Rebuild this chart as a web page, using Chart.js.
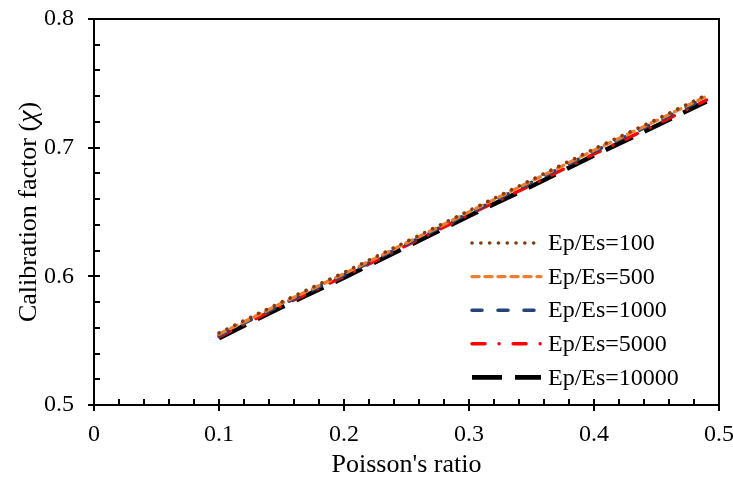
<!DOCTYPE html>
<html>
<head>
<meta charset="utf-8">
<script src="https://cdn.jsdelivr.net/npm/chart.js@4.4.1/dist/chart.umd.min.js"></script>
<style>
  html, body { margin: 0; padding: 0; background: #fff; }
  #wrap { width: 733px; height: 481px; }
</style>
</head>
<body>
<div id="wrap"><canvas id="chart" width="733" height="481"></canvas></div>
<script>
// Poisson's ratio values
const poisson = [0.1, 0.15, 0.2, 0.25, 0.3, 0.35, 0.4, 0.45, 0.49];

// calibration factor for each stiffness ratio
const ratio100   = [0.556, 0.580, 0.603, 0.627, 0.651, 0.675, 0.699, 0.722, 0.741];
const ratio500   = [0.555, 0.579, 0.602, 0.626, 0.650, 0.674, 0.698, 0.721, 0.740];
const ratio1000  = [0.554, 0.578, 0.601, 0.625, 0.649, 0.673, 0.697, 0.720, 0.739];
const ratio5000  = [0.553, 0.577, 0.600, 0.624, 0.648, 0.671, 0.695, 0.718, 0.737];
const ratio10000 = [0.552, 0.576, 0.599, 0.623, 0.647, 0.670, 0.694, 0.717, 0.736];

const seriesLabels = ['Ep/Es=100', 'Ep/Es=500', 'Ep/Es=1000', 'Ep/Es=5000', 'Ep/Es=10000'];
const seriesValues = [ratio100, ratio500, ratio1000, ratio5000, ratio10000];

const styles = [
    { color: '#843C0C', dash: [0.1, 8.7], width: 3.6, cap: 'round' },
    { color: '#ED7D31', dash: [7, 6], width: 3.4, cap: 'round' },
    { color: '#264478', dash: [10, 16], width: 3.6, cap: 'round' },
    { color: '#FF0000', dash: [13, 14, 0.1, 14], width: 3.4, cap: 'round' },
    { color: '#000000', dash: [30, 13], width: 4.6, cap: 'butt' }
];

const serif = "'Liberation Serif', 'Times New Roman', serif";

function toPoints(vals) {
    return vals.map((v, i) => ({ x: poisson[i], y: v }));
}

const datasets = seriesValues.map((vals, i) => ({
    label: seriesLabels[i],
    data: toPoints(vals),
    borderColor: styles[i].color,
    backgroundColor: styles[i].color,
    borderDash: styles[i].dash,
    borderWidth: styles[i].width,
    borderCapStyle: styles[i].cap,
    pointRadius: 0,
    fill: false,
    tension: 0
}));

// ticks, box, y title (italic chi) and legend drawn the way the original figure has them
const decorations = {
    id: 'decorations',
    afterDraw(chart) {
        const ctx = chart.ctx;
        const a = chart.chartArea;
        const xs = chart.scales.x;
        const ys = chart.scales.y;
        ctx.save();
        ctx.strokeStyle = '#000';
        ctx.lineWidth = 2;
        // box
        ctx.strokeRect(a.left, a.top, a.right - a.left, a.bottom - a.top);
        // x ticks
        for (let k = 0; k <= 25; k++) {
            const v = k * 0.02;
            const px = Math.round(xs.getPixelForValue(v));
            ctx.beginPath();
            ctx.moveTo(px, a.bottom - 6);
            ctx.lineTo(px, k % 5 === 0 ? a.bottom + 6 : a.bottom);
            ctx.stroke();
        }
        // y ticks
        for (let k = 0; k <= 15; k++) {
            const v = 0.5 + k * 0.02;
            const py = Math.round(ys.getPixelForValue(v));
            ctx.beginPath();
            ctx.moveTo(k % 5 === 0 ? a.left - 6 : a.left, py);
            ctx.lineTo(a.left + 6, py);
            ctx.stroke();
        }

        // y axis title with italic chi
        const parts = [
            { t: 'Calibration factor (', f: '26px ' + serif },
            { t: '\u03C7', f: 'italic 28px ' + serif },
            { t: ')', f: '26px ' + serif }
        ];
        let total = 0;
        parts.forEach(p => { ctx.font = p.f; p.w = ctx.measureText(p.t).width; total += p.w; });
        ctx.save();
        ctx.translate(29, (a.top + a.bottom) / 2);
        ctx.rotate(-Math.PI / 2);
        ctx.fillStyle = '#000';
        ctx.textBaseline = 'middle';
        ctx.textAlign = 'left';
        let cx = -total / 2;
        parts.forEach(p => { ctx.font = p.f; ctx.fillText(p.t, cx, 0); cx += p.w; });
        ctx.restore();

        // legend
        ctx.font = '24px ' + serif;
        ctx.textBaseline = 'middle';
        ctx.fillStyle = '#000';
        chart.data.datasets.forEach((ds, i) => {
            const y = 243 + i * 33.6;
            ctx.save();
            ctx.strokeStyle = ds.borderColor;
            ctx.lineWidth = ds.borderWidth;
            ctx.lineCap = ds.borderCapStyle;
            ctx.setLineDash(ds.borderDash);
            ctx.beginPath();
            ctx.moveTo(472, y);
            ctx.lineTo(541, y);
            ctx.stroke();
            ctx.restore();
            ctx.fillText(ds.label, 548, y + 1);
        });
        ctx.restore();
    }
};

new Chart(document.getElementById('chart'), {
    type: 'line',
    data: { datasets: datasets },
    options: {
        responsive: false,
        animation: false,
        layout: { padding: { top: 19, right: 14, left: 0, bottom: 0 } },
        plugins: {
            legend: { display: false },
            tooltip: { enabled: false }
        },
        scales: {
            x: {
                type: 'linear',
                min: 0,
                max: 0.5,
                grid: { display: false, drawTicks: false },
                border: { display: false },
                ticks: {
                    stepSize: 0.1,
                    padding: 15,
                    color: '#000',
                    font: { family: serif, size: 24 },
                    maxRotation: 0
                },
                title: {
                    display: true,
                    text: "Poisson's ratio",
                    color: '#000',
                    font: { family: serif, size: 26 },
                    padding: { top: 0, bottom: 0 }
                },
                afterFit(scale) {
                    scale.height = 76;
                    scale.paddingLeft = 0;
                    scale.paddingRight = 0;
                }
            },
            y: {
                min: 0.5,
                max: 0.8,
                grid: { display: false, drawTicks: false },
                border: { display: false },
                ticks: {
                    stepSize: 0.1,
                    padding: 20,
                    color: '#000',
                    font: { family: serif, size: 24 }
                },
                title: { display: false },
                afterFit(scale) {
                    scale.width = 94;
                    scale.paddingTop = 0;
                    scale.paddingBottom = 0;
                }
            }
        }
    },
    plugins: [decorations]
});
</script>
</body>
</html>
